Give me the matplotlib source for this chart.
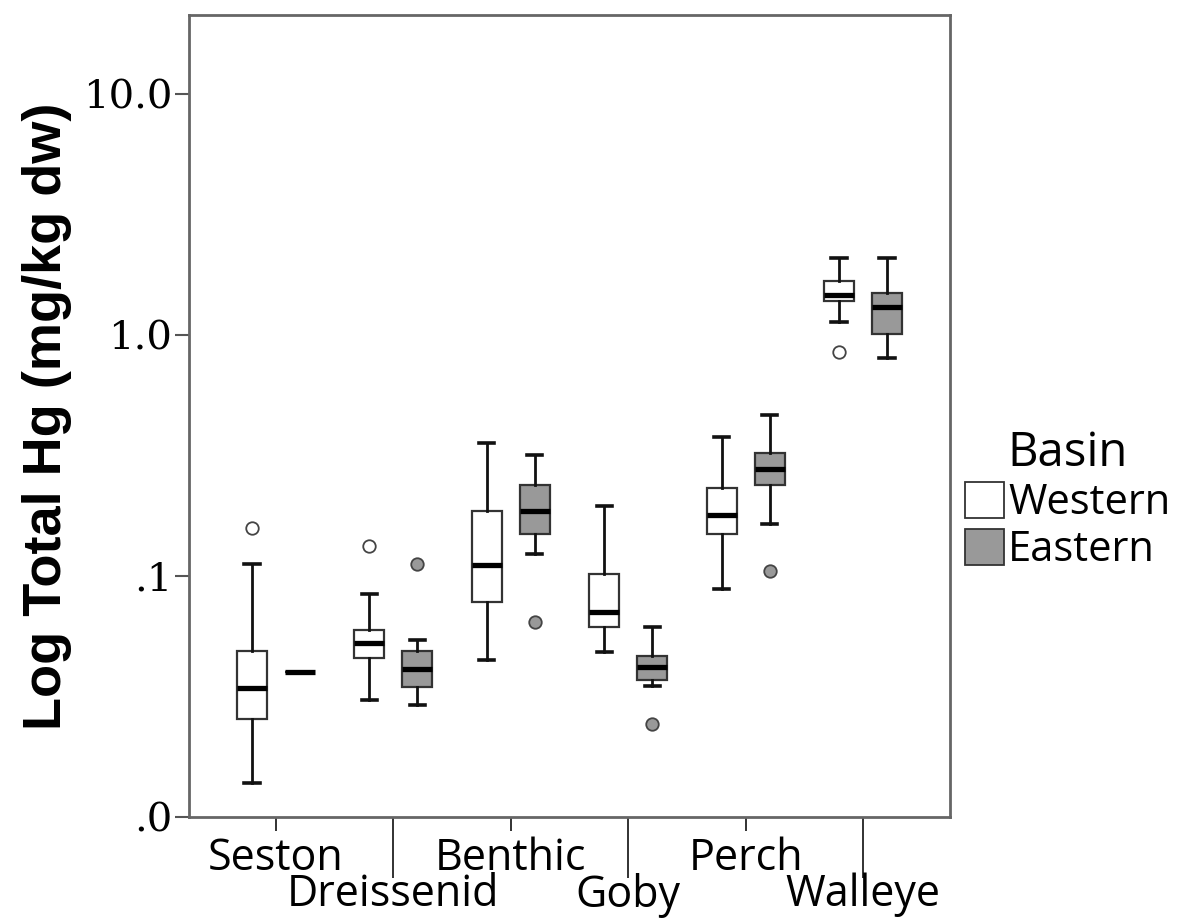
import matplotlib
matplotlib.use("Agg")
import matplotlib.pyplot as plt
from matplotlib.patches import Patch

# categories along x (staggered labels: even ones top row, odd ones bottom row)
groups = ["Seston", "Dreissenid", "Benthic", "Goby", "Perch", "Walleye"]
basins = ["Western", "Eastern"]
colors = {"Western": "white", "Eastern": "#999999"}

# box stats (mg/kg dw)
# order: lower whisker, q1, median, q3, upper whisker
west_whislo = [0.0138, 0.0305, 0.0448, 0.0482, 0.0885, 1.133]
west_q1     = [0.0255, 0.0458, 0.0782, 0.0612, 0.149, 1.384]
west_med    = [0.0342, 0.0527, 0.1106, 0.0706, 0.180, 1.466]
west_q3     = [0.0489, 0.0597, 0.1866, 0.1022, 0.231, 1.670]
west_whishi = [0.112, 0.0845, 0.357, 0.195, 0.378, 2.087]
west_fliers = [[0.158], [0.1336], [], [], [], [0.853]]

east_whislo = [0.0398, 0.0292, 0.1239, 0.0350, 0.164, 0.803]
east_q1     = [0.0398, 0.0347, 0.150, 0.0372, 0.2376, 1.0125]
east_med    = [0.0398, 0.0410, 0.186, 0.0418, 0.278, 1.307]
east_q3     = [0.0398, 0.0490, 0.2376, 0.0467, 0.325, 1.493]
east_whishi = [0.0398, 0.0541, 0.318, 0.0617, 0.466, 2.087]
east_fliers = [[], [0.1125], [0.0646], [0.0243], [0.105], []]

yticks = [0.01, 0.1, 1.0, 10.0]
ytick_labels = [".0", ".1", "1.0", "10.0"]


def make_stats(lo, q1, med, q3, hi, fl):
    out = []
    for i in range(len(lo)):
        out.append({"whislo": lo[i], "q1": q1[i], "med": med[i], "q3": q3[i],
                    "whishi": hi[i], "fliers": fl[i]})
    return out


west = make_stats(west_whislo, west_q1, west_med, west_q3, west_whishi, west_fliers)
east = make_stats(east_whislo, east_q1, east_med, east_q3, east_whishi, east_fliers)

fig = plt.figure(figsize=(11.83, 9.24), dpi=100)
ax = fig.add_axes([0.1598, 0.1158, 0.6432, 0.868])

xs = list(range(len(groups)))
off = 0.204
w = 0.255
for stats, shift, name in [(west, -off, "Western"), (east, off, "Eastern")]:
    ax.bxp(stats, positions=[x + shift for x in xs], widths=w, capwidths=0.13,
           patch_artist=True, manage_ticks=False,
           boxprops=dict(facecolor=colors[name], edgecolor="#333333", linewidth=1.6),
           whiskerprops=dict(color="#111111", linewidth=2.0),
           capprops=dict(color="#111111", linewidth=2.6),
           medianprops=dict(color="black", linewidth=3.8, solid_capstyle="butt"),
           flierprops=dict(marker="o", markersize=9, markerfacecolor=colors[name],
                           markeredgecolor="#444444", markeredgewidth=1.3))

ax.set_yscale("log")
ax.set_ylim(0.01, 21.3)
ax.set_xlim(-0.74, len(groups) - 1 + 0.74)
ax.set_yticks(yticks)
ax.set_yticklabels(ytick_labels, family="DejaVu Serif", fontsize=29)
ax.yaxis.set_minor_locator(matplotlib.ticker.NullLocator())
ax.tick_params(axis="y", length=10, width=1.5, color="#555555", pad=2)

# staggered category labels
ax.set_xticks(xs[0::2])
ax.set_xticklabels(groups[0::2], family="Open Sans", fontsize=31)
ax.set_xticks(xs[1::2], minor=True)
ax.set_xticklabels(groups[1::2], minor=True, family="Open Sans", fontsize=31)
ax.tick_params(axis="x", which="major", length=10, width=1.3, color="#222222", pad=4)
ax.tick_params(axis="x", which="minor", length=44, width=1.3, color="#222222", pad=-4)

for s in ax.spines.values():
    s.set_color("#666666")
    s.set_linewidth(2.0)

ax.set_ylabel("Log Total Hg (mg/kg dw)", family="Liberation Sans", fontweight="bold",
              fontsize=39, labelpad=8)

handles = [Patch(facecolor=colors[b], edgecolor="#333333", linewidth=1.3, label=b) for b in basins]
leg = ax.legend(handles=handles, title="Basin", loc="center left", bbox_to_anchor=(1.0, 0.395),
                frameon=False, prop={"family": "Open Sans", "size": 30},
                title_fontproperties={"family": "Open Sans", "size": 34},
                handlelength=0.95, handleheight=0.95, handletextpad=0.1,
                labelspacing=0.12, borderaxespad=0.0, borderpad=0.35)

fig.savefig("out.png", dpi=100)
